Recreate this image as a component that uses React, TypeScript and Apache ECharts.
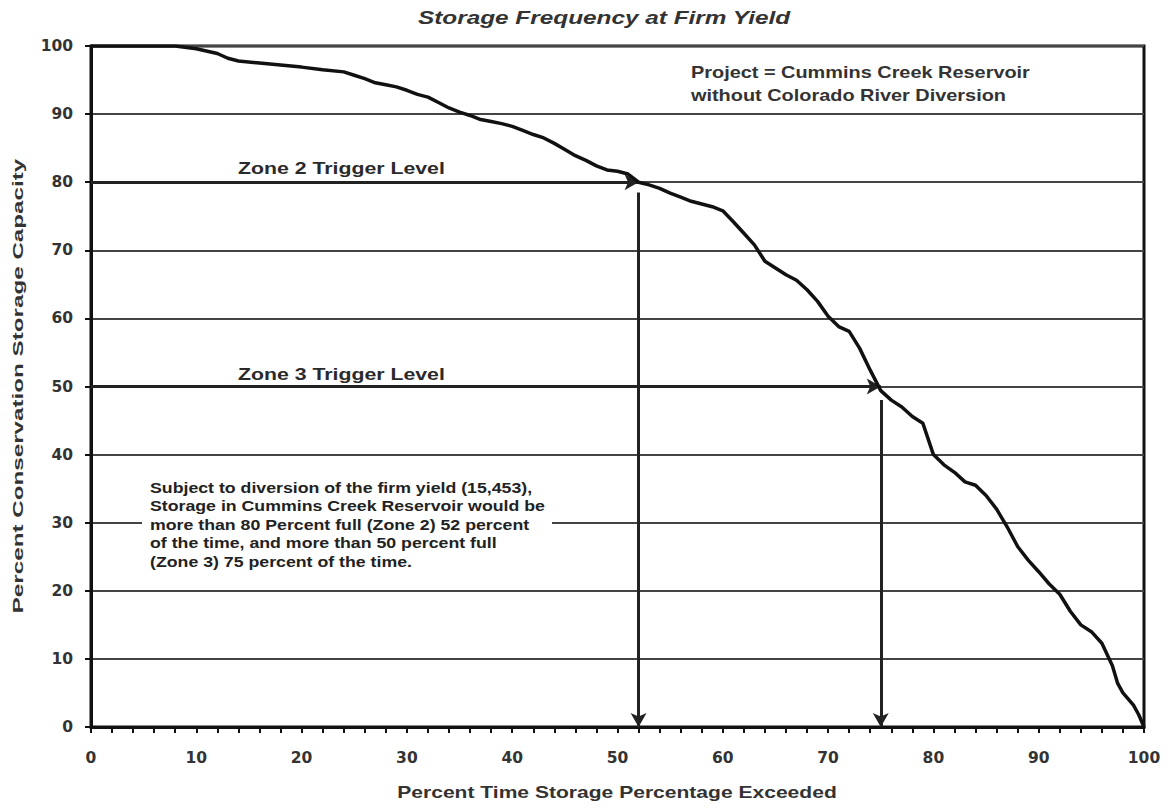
import React, { useEffect, useRef } from "react";
import * as echarts from "echarts";

const curveX = [0, 2, 4, 6, 8, 10, 12, 13, 14, 16, 18, 20, 22, 24, 25, 26, 27, 28, 29, 30, 31, 32, 33, 34, 35, 36, 37, 38, 39, 40, 41, 42, 43, 44, 45, 46, 47, 48, 49, 50, 51, 52, 53, 54, 55, 56, 57, 58, 59, 60, 61, 62, 63, 64, 65, 66, 67, 68, 69, 70, 71, 72, 73, 74, 75, 76, 77, 78, 79, 80, 81, 82, 83, 84, 85, 86, 87, 88, 89, 90, 91, 92, 93, 94, 95, 96, 97, 97.5, 98, 99, 99.5, 100];
const curveY = [100, 100, 100, 100, 100, 99.6, 98.9, 98.2, 97.8, 97.5, 97.2, 96.9, 96.5, 96.2, 95.7, 95.2, 94.6, 94.3, 94, 93.5, 92.9, 92.5, 91.7, 90.9, 90.3, 89.8, 89.2, 88.9, 88.6, 88.2, 87.6, 87, 86.5, 85.7, 84.8, 83.9, 83.2, 82.4, 81.8, 81.6, 81.2, 80, 79.6, 79.1, 78.4, 77.8, 77.2, 76.8, 76.4, 75.8, 74.2, 72.5, 70.8, 68.4, 67.4, 66.4, 65.6, 64.2, 62.5, 60.3, 58.8, 58.1, 55.6, 52.4, 49.4, 48, 47, 45.6, 44.6, 40, 38.5, 37.4, 36, 35.5, 34, 32, 29.4, 26.5, 24.5, 22.8, 21, 19.5, 17, 15, 14, 12.3, 9, 6.4, 5, 3.2, 1.8, 0];

const zoneLevels = [80, 50];
const zoneExceed = [52, 75];
const zoneVertStart = [78.5, 48];
const zoneLabels = ["Zone 2 Trigger Level", "Zone 3 Trigger Level"];

const titleText = "Storage Frequency at Firm Yield";
const xTitle = "Percent Time Storage Percentage Exceeded";
const yTitle = "Percent Conservation Storage Capacity";
const projectLines = ["Project = Cummins Creek Reservoir", "without Colorado River Diversion"];
const noteLines = [
  "Subject to diversion of the firm yield (15,453),",
  "Storage in Cummins Creek Reservoir would be",
  "more than 80 Percent full (Zone 2) 52 percent",
  "of the time, and more than 50 percent full",
  "(Zone 3) 75 percent of the time.",
];

const FONT = "'Liberation Sans', Arial, sans-serif";

function measure(text: string, font: string): number {
  const ctx = document.createElement("canvas").getContext("2d")!;
  ctx.font = font;
  return ctx.measureText(text).width;
}

export default function App() {
  const ref = useRef<HTMLDivElement>(null);
  useEffect(() => {
    const chart = echarts.init(ref.current!, null, { renderer: "svg" });
    const markData: any[] = [];
    zoneLevels.forEach((lv, i) => {
      markData.push([
        { coord: [0, lv], symbol: "none" },
        { coord: [zoneExceed[i], lv], symbol: "arrow" },
      ]);
      markData.push([
        { coord: [zoneExceed[i], zoneVertStart[i]], symbol: "none" },
        { coord: [zoneExceed[i], 0], symbol: "arrow" },
      ]);
    });

    const stretched = (
      text: string,
      font: string,
      targetWidth: number,
      x: number,
      y: number,
      align: string,
      extra: any = {}
    ) => {
      const w = measure(text, font);
      return {
        type: "text",
        x,
        y,
        scaleX: targetWidth / w,
        z: 20,
        ...extra,
        style: { text, font, fill: "#2a2a2a", align, verticalAlign: "middle", ...(extra.style || {}) },
      };
    };

    const graphics: any[] = [];
    const titleFont = `italic bold 18px ${FONT}`;
    graphics.push(stretched(titleText, titleFont, 373, 604, 18, "center", { style: { fill: "#333" } }));

    const zoneFont = `bold 16px ${FONT}`;
    zoneLabels.forEach((t, i) => {
      graphics.push(stretched(t, zoneFont, 207, 238, i === 0 ? 168 : 374, "left"));
    });

    const projFont = `bold 16px ${FONT}`;
    const projScale = 339 / measure(projectLines[0], projFont);
    projectLines.forEach((t, i) => {
      graphics.push({
        type: "text",
        x: 691,
        y: i === 0 ? 73 : 96,
        scaleX: projScale,
        z: 20,
        style: { text: t, font: projFont, fill: "#333", align: "left", verticalAlign: "middle" },
      });
    });

    graphics.push({
      type: "rect",
      shape: { x: 142, y: 476, width: 410, height: 96 },
      style: { fill: "#fff" },
      z: 10,
    });
    const noteFont = `bold 14px ${FONT}`;
    const noteScale = 395 / measure(noteLines[1], noteFont);
    noteLines.forEach((t, i) => {
      graphics.push({
        type: "text",
        x: 150,
        y: 488 + i * 18.5,
        scaleX: noteScale,
        z: 20,
        style: { text: t, font: noteFont, fill: "#222", align: "left", verticalAlign: "middle" },
      });
    });

    const axisTitleFont = `bold 16px ${FONT}`;
    graphics.push(stretched(xTitle, axisTitleFont, 440, 617, 792, "center", { style: { fill: "#333" } }));
    graphics.push(
      stretched(yTitle, `bold 15px ${FONT}`, 455, 18, 386, "center", { rotation: Math.PI / 2, style: { fill: "#333" } })
    );

    const labelStyle = { fontFamily: "'DejaVu Sans', sans-serif", fontSize: 15.5, fontWeight: "bold", color: "#333" };

    chart.setOption({
      animation: false,
      backgroundColor: "#fff",
      grid: { left: 91, right: 28, top: 46, bottom: 81, show: true, borderColor: "#111", borderWidth: 3, backgroundColor: "transparent" },
      xAxis: {
        type: "value",
        min: 0,
        max: 100,
        interval: 10,
        axisLine: { lineStyle: { color: "#111", width: 3 } },
        axisTick: { show: true, length: 6, lineStyle: { color: "#111", width: 2 } },
        minorTick: { show: true, splitNumber: 5, length: 6, lineStyle: { color: "#111", width: 2 } },
        axisLabel: { ...labelStyle, margin: 23 },
        splitLine: { show: false },
      },
      yAxis: {
        type: "value",
        min: 0,
        max: 100,
        interval: 10,
        axisLine: { show: true, lineStyle: { color: "#111", width: 3 } },
        axisTick: { show: true, length: 6, lineStyle: { color: "#111", width: 2 } },
        axisLabel: { ...labelStyle, margin: 18 },
        splitLine: { show: true, lineStyle: { color: "#444", width: 2 } },
      },
      graphic: graphics,
      series: [
        {
          type: "line",
          data: curveX.map((x, i) => [x, curveY[i]]),
          showSymbol: false,
          symbol: "none",
          lineStyle: { color: "#111", width: 3.5 },
          z: 5,
          markLine: {
            silent: true,
            symbolSize: [12, 14],
            label: { show: false },
            lineStyle: { color: "#222", width: 3, type: "solid" },
            data: markData,
          },
        },
      ],
    });
    return () => chart.dispose();
  }, []);
  return <div ref={ref} style={{ position: "absolute", left: 0, top: 0, width: 1172, height: 808 }} />;
}
